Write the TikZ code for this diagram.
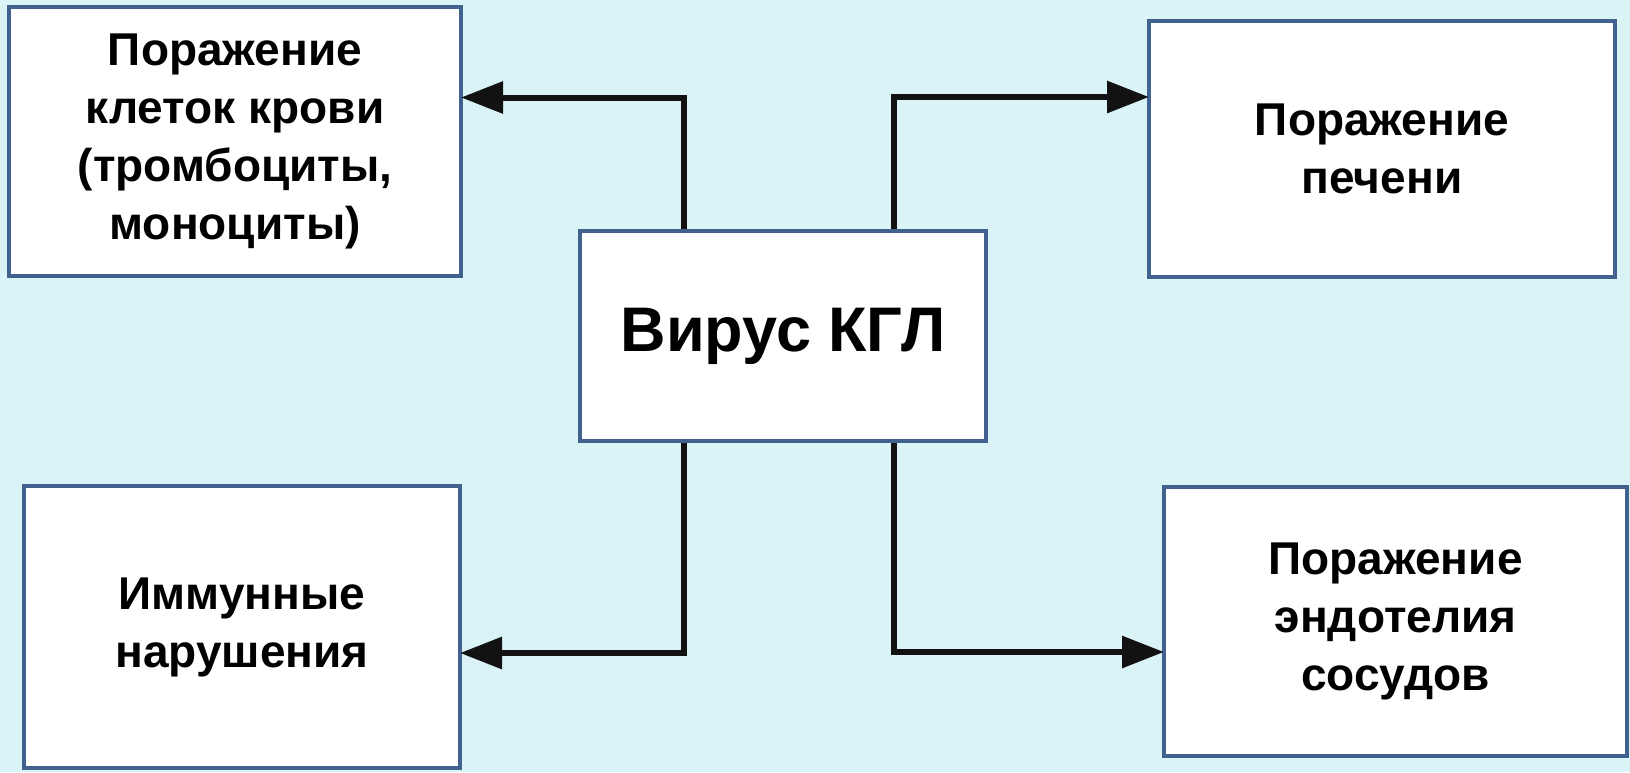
\documentclass[tikz,border=0pt]{standalone}
\usepackage{fontspec}
\setmainfont{Liberation Sans}
\usetikzlibrary{arrows.meta}
\definecolor{bgcyan}{RGB}{218,243,247}
\definecolor{frameblue}{RGB}{65,98,143}

\begin{document}
\begin{tikzpicture}[
   x=1pt, y=-1pt,
   every node/.style={draw=frameblue, line width=4pt, fill=white, align=center,
      font=\bfseries\fontsize{46}{58}\selectfont},
   link/.style={line width=6pt, draw=black!93, shorten >=-2pt,
      -{Triangle[length=42pt,width=31pt]}}]

\useasboundingbox (0,0) rectangle (1630,772);
\fill[bgcyan] (0,0) rectangle (1630,772);

\node[minimum width=406pt, minimum height=210pt,
      font=\bfseries\fontsize{63}{70}\selectfont] (virus) at (783,336) {Вирус КГЛ};

\node[minimum width=452pt, minimum height=269pt] (blood) at (235,141.5)
    {Поражение\\клеток крови\\(тромбоциты,\\моноциты)};
\node[minimum width=466pt, minimum height=256pt] (liver) at (1382,149)
    {Поражение\\печени};
\node[minimum width=436pt, minimum height=282pt] (immune) at (242,627)
    {Иммунные\\нарушения};
\node[minimum width=463pt, minimum height=269pt] (endo) at (1395.5,621.5)
    {Поражение\\эндотелия\\сосудов};

\draw[link] ([xshift=-99pt]virus.north) |- ([yshift=44pt]blood.east);
\draw[link] ([xshift=111pt]virus.north) |- ([yshift=52pt]liver.west);
\draw[link] ([xshift=-99pt]virus.south) |- ([yshift=-26pt]immune.east);
\draw[link] ([xshift=111pt]virus.south) |- ([yshift=-30.5pt]endo.west);

\end{tikzpicture}
\end{document}
